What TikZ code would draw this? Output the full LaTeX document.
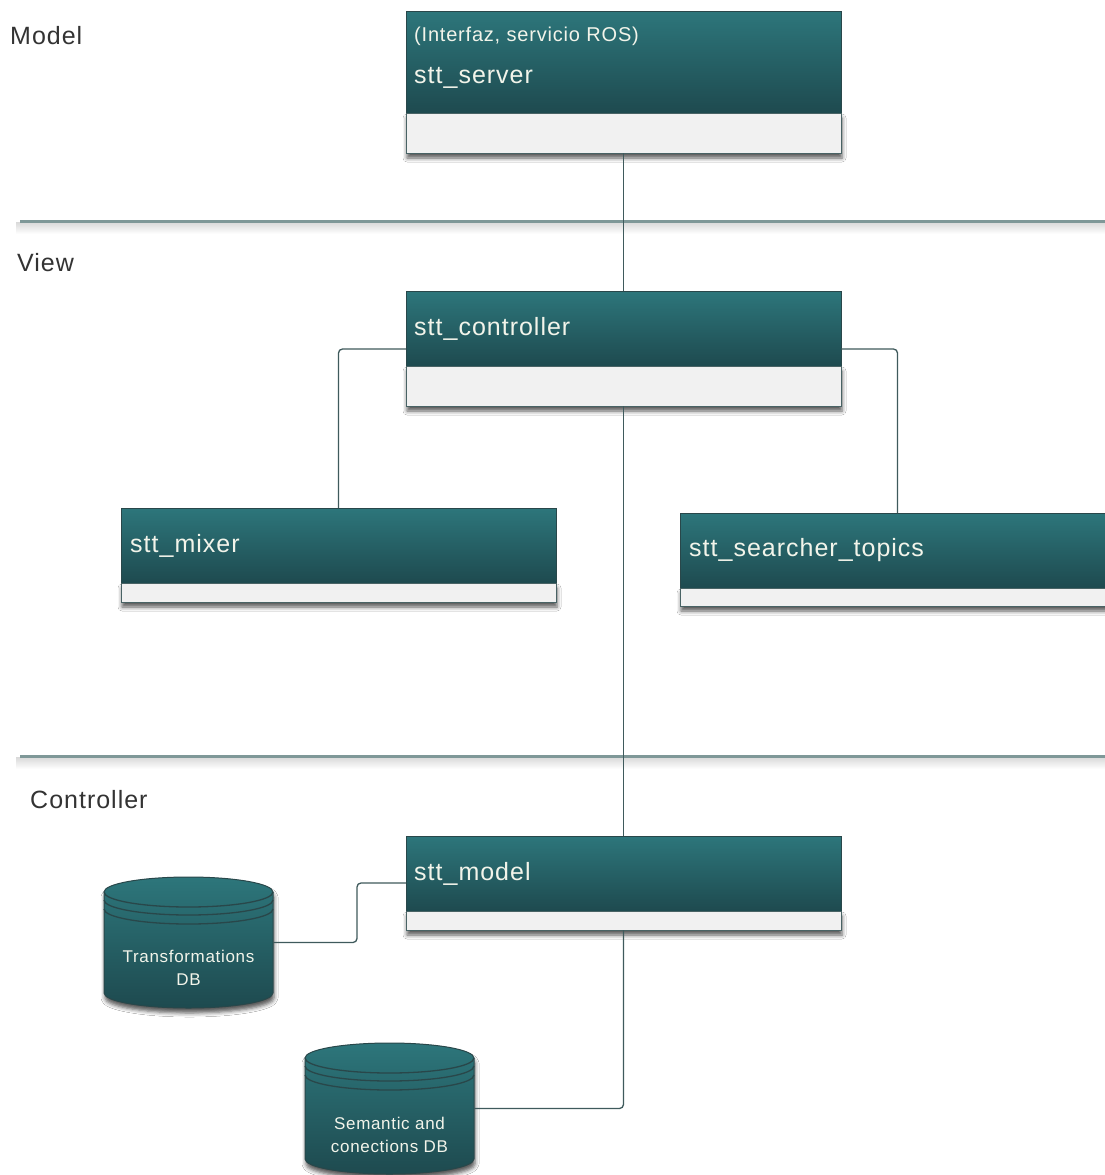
\documentclass[tikz,border=0pt]{standalone}
\usepackage{fontspec}
\setmainfont{Liberation Sans}
\newfontfamily\boxfont{Liberation Sans}[LetterSpace=4]
\usetikzlibrary{shadows.blur,calc}

\definecolor{hdtop}{HTML}{2D767B}
\definecolor{hdbot}{HTML}{1E4A4F}
\definecolor{edge}{HTML}{29474A}
\definecolor{wire}{HTML}{3F5A5C}
\definecolor{bodyfill}{HTML}{F1F1F1}
\definecolor{rulecol}{HTML}{7F9898}
\definecolor{ink}{HTML}{333333}
\definecolor{lbl}{HTML}{F2F4EA}

\tikzset{
  x=1pt, y=-1pt,
  boxshadow/.style={blur shadow={shadow xshift=1pt, shadow yshift=-5pt, shadow blur radius=4pt, shadow opacity=65}},
  header/.style={draw=edge, line width=1pt, top color=hdtop, bottom color=hdbot,
    anchor=north west, minimum width=435pt, inner sep=0pt, outer sep=0pt},
  compartment/.style={draw=edge!85, line width=1pt, fill=bodyfill, anchor=north,
    minimum width=435pt, inner sep=0pt, outer sep=0pt, boxshadow},
  boxlabel/.style={font=\boxfont\fontsize{25}{30}\selectfont, text=lbl, anchor=west, inner sep=0pt},
  stereo/.style={font=\boxfont\fontsize{20}{24}\selectfont, text=lbl, anchor=west, inner sep=0pt},
  layer/.style={font=\boxfont\fontsize{25}{30}\selectfont, text=ink, anchor=west, inner sep=0pt},
  dbnode/.style={minimum width=169pt, minimum height=131pt, inner sep=0pt, outer sep=0pt},
  dbtext/.style={font=\boxfont\fontsize{17}{23}\selectfont, text=lbl, align=center, inner sep=0pt},
  conn/.style={draw=wire, line width=1.3pt, rounded corners=4pt},
}

% cylinder outline drawn around a named db node
\newcommand\drawdrum[1]{%
  \shade[top color=hdtop, bottom color=hdbot, draw=edge, line width=1pt, boxshadow]
    ([yshift=-15pt]#1.north west) -- ([yshift=15pt]#1.south west) arc (180:0:84.5 and 15)
    -- ([yshift=-15pt]#1.north east) arc (0:-180:84.5 and 15) -- cycle;
  \foreach \d in {0,8,17}
    \draw[edge, line width=1.3pt] ([yshift=-15pt-\d pt]#1.north west) arc (180:0:84.5 and 15);
}

\newcommand\separator[1]{%
  \fill[top color=black!15, bottom color=white] (16,#1+1) rectangle (1105,#1+13);
  \draw[rulecol, line width=3pt] (20,#1) -- (1105,#1);
}

\begin{document}
\begin{tikzpicture}
\useasboundingbox (0,0) rectangle (1105,1175);
\clip (0,0) rectangle (1105,1175);
\fill[white] (0,0) rectangle (1105,1175);

% layer separators and titles
\separator{221}
\separator{756}
\node[layer] (lbl-model) at (10,36) {Model};
\node[layer] (lbl-view) at (17,263) {View};
\node[layer] (lbl-ctrl) at (30,800) {Controller};

% stt_server
\node[header, minimum height=102pt] (server) at (406,11) {};
\node[compartment, minimum height=40pt] (server-body) at (server.south) {};
\node[stereo] (server-st) at ([xshift=8pt, yshift=-25pt]server.north west) {(Interfaz, servicio ROS)};
\node[boxlabel] (server-name) at ([xshift=8pt, yshift=-67pt]server.north west) {stt\_server};

% stt_controller
\node[header, minimum height=75pt] (ctrl) at (406,291) {};
\node[compartment, minimum height=40pt] (ctrl-body) at (ctrl.south) {};
\node[boxlabel] (ctrl-name) at ([xshift=8pt]ctrl.west) {stt\_controller};

% stt_mixer
\node[header, minimum height=75pt] (mixer) at (121,508) {};
\node[compartment, minimum height=19pt] (mixer-body) at (mixer.south) {};
\node[boxlabel] (mixer-name) at ([xshift=9pt]mixer.west) {stt\_mixer};

% stt_searcher_topics
\node[header, minimum height=75pt] (search) at (680,513) {};
\node[compartment, minimum height=18pt] (search-body) at (search.south) {};
\node[boxlabel] (search-name) at ([xshift=9pt]search.west) {stt\_searcher\_topics};

% stt_model
\node[header, minimum height=75pt] (model) at (406,836) {};
\node[compartment, minimum height=19pt] (model-body) at (model.south) {};
\node[boxlabel] (model-name) at ([xshift=8pt]model.west) {stt\_model};

% databases
\node[dbnode] (tdb) at (188.5,942.5) {};
\drawdrum{tdb}
\node[dbtext] (tdb-name) at ([yshift=-25pt]tdb.center) {Transformations\\DB};

\node[dbnode] (sdb) at (389.5,1108.5) {};
\drawdrum{sdb}
\node[dbtext] (sdb-name) at ([yshift=-26pt]sdb.center) {Semantic and\\conections DB};

% connectors
\draw[conn] (server-body.south) -- (ctrl.north);
\draw[conn] (ctrl-body.south) -- (model.north);
\draw[conn] ([yshift=-20.5pt]ctrl.west) -| (mixer.north);
\draw[conn] ([yshift=-20.5pt]ctrl.east) -| (search.north);
\draw[conn] ([yshift=-9.5pt]model.west) -- ++(-49,0) |- (tdb.east);
\draw[conn] (model-body.south) |- (sdb.east);
\end{tikzpicture}
\end{document}
